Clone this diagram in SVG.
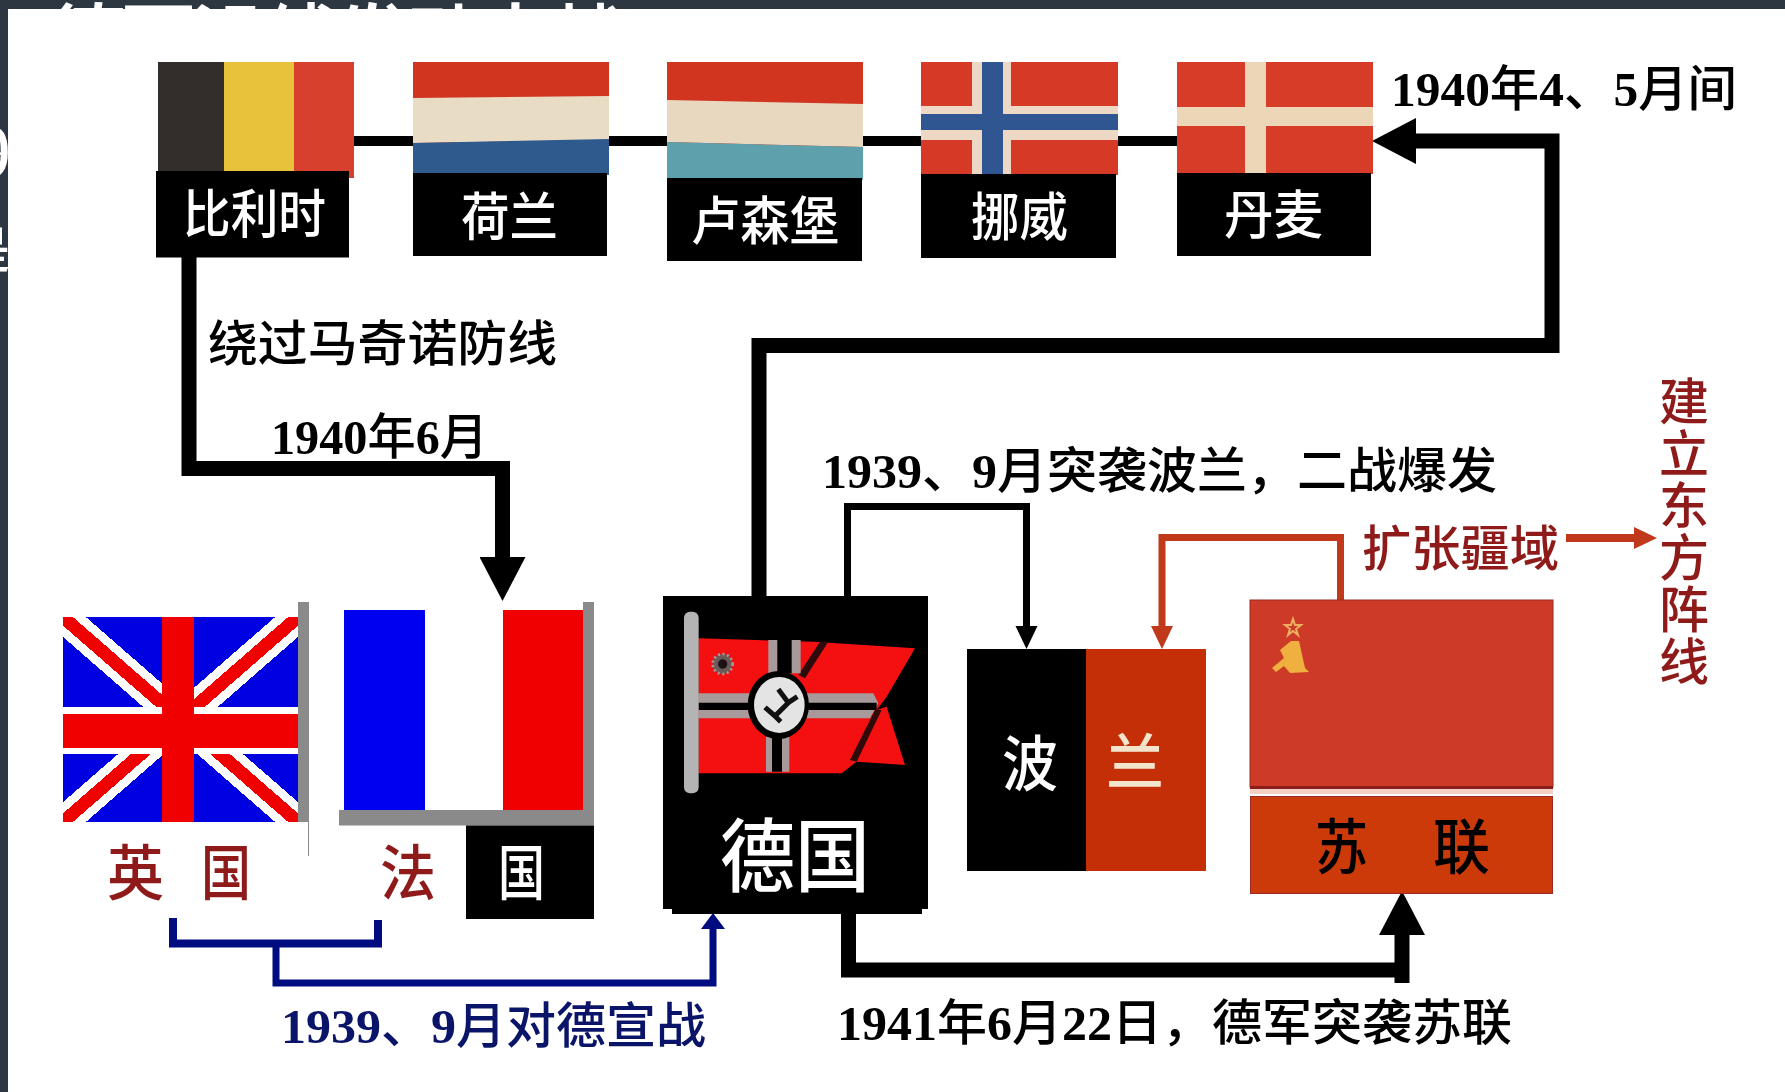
<svg xmlns="http://www.w3.org/2000/svg" width="1785" height="1092" viewBox="0 0 1785 1092">
<style>
text{font-family:"Liberation Serif","Noto Sans CJK SC",serif;font-weight:500}
.w{fill:#fff}.k{fill:#000}.dr{fill:#8e1a1a}.nv{fill:#0a1468}.cr{fill:#f3e4cc}
.lb{font-size:52px}.ann{font-size:49px}.bd{font-weight:700}.big{font-size:60px}
.ln{fill:none;stroke:#000;stroke-width:15}
.thin{fill:none;stroke:#000;stroke-width:7}
.or{fill:none;stroke:#c0391b;stroke-width:7}
.bl{fill:none;stroke:#000c80;stroke-width:7}
</style>
<defs>
<marker id="big" markerUnits="userSpaceOnUse" markerWidth="46" markerHeight="46" refX="0" refY="23" orient="auto"><path d="M0 0L44 23L0 46z" fill="#000"/></marker>
<marker id="sm" markerUnits="userSpaceOnUse" markerWidth="24" markerHeight="24" refX="0" refY="12" orient="auto"><path d="M0 1L23 12L0 23z" fill="#000"/></marker>
<marker id="orm" markerUnits="userSpaceOnUse" markerWidth="24" markerHeight="24" refX="0" refY="12" orient="auto"><path d="M0 1L23 12L0 23z" fill="#c0391b"/></marker>
<marker id="blm" markerUnits="userSpaceOnUse" markerWidth="16" markerHeight="24" refX="0" refY="12" orient="auto"><path d="M0 0L16 12L0 24z" fill="#000c80"/></marker>
<clipPath id="ukclip"><rect x="63" y="617" width="235" height="205"/></clipPath>
</defs>
<rect width="1785" height="1092" fill="#2d3742"/>
<g id="backdrop-text">
<text x="48" y="69" font-size="78" textLength="578" lengthAdjust="spacing" style="fill:#fff">德军沿线发动大战</text>
<text x="11" y="178" font-size="78" text-anchor="end" style="fill:#fff;font-family:'Liberation Serif',serif;font-weight:400">9</text>
<text x="10" y="268" font-size="50" text-anchor="end" style="fill:#fff;font-family:'Noto Sans CJK SC',sans-serif">是</text>
</g>
<rect x="8" y="9" width="1777" height="1083" fill="#fff"/>

<g id="connectors">
<path class="ln" style="stroke-width:10" d="M354 141H1177"/>
<path class="ln" d="M189 257V468.5H502.5V557" marker-end="url(#big)"/>
<path class="ln" d="M759 597V345.5H1552V141H1416" marker-end="url(#big)"/>
<path class="thin" d="M847.5 597V506.5H1026.5V626" marker-end="url(#sm)"/>
<path class="or" d="M1340.5 600V537.5H1162V626" marker-end="url(#orm)"/>
<path class="or" style="stroke-width:8" d="M1566 538H1634" marker-end="url(#orm)"/>
<path class="bl" style="stroke-width:8" d="M173 918V943.5H378V920"/>
<path class="bl" d="M276 943V983H713V929" marker-end="url(#blm)"/>
<path class="ln" d="M848.5 914V970H1402"/>
<path class="ln" d="M1402 983V935" marker-end="url(#big)"/>
</g>

<g id="belgium">
<rect x="158" y="62" width="66" height="116" fill="#332e2c"/>
<rect x="224" y="62" width="70" height="116" fill="#e9c23c"/>
<rect x="294" y="62" width="60" height="116" fill="#d6402c"/>
<rect x="156" y="171" width="193" height="86.500" fill="#000"/>
<text class="lb w" x="183" y="233" textLength="143" lengthAdjust="spacingAndGlyphs">比利时</text>
</g>
<g id="netherlands">
<rect x="413" y="62" width="196" height="113" fill="#d13520"/>
<path d="M413 98L609 96V140L413 143z" fill="#e8dcc4"/>
<path d="M413 143L609 139V175H413z" fill="#2f5a8e"/>
<rect x="413" y="173" width="194" height="83" fill="#000"/>
<text class="lb w" x="461" y="236" textLength="97" lengthAdjust="spacingAndGlyphs">荷兰</text>
</g>
<g id="luxembourg">
<rect x="667" y="62" width="196" height="118" fill="#d13520"/>
<path d="M667 100L863 104V147L667 142z" fill="#e8d8c0"/>
<path d="M667 142L863 147V180H667z" fill="#5fa0ad"/>
<rect x="667" y="178" width="195" height="83" fill="#000"/>
<text class="lb w" x="691" y="240" textLength="148" lengthAdjust="spacingAndGlyphs">卢森堡</text>
</g>
<g id="norway">
<rect x="921" y="62" width="197" height="113" fill="#d63a26"/>
<rect x="972" y="62" width="39" height="113" fill="#ecd8c4"/>
<rect x="921" y="106" width="197" height="34" fill="#ecd8c4"/>
<rect x="982" y="62" width="21" height="113" fill="#2f5690"/>
<rect x="921" y="114" width="197" height="16" fill="#2f5690"/>
<rect x="921" y="174" width="195" height="84" fill="#000"/>
<text class="lb w" x="971" y="236" textLength="97" lengthAdjust="spacingAndGlyphs">挪威</text>
</g>
<g id="denmark">
<rect x="1177" y="62" width="196" height="112" fill="#d63c28"/>
<rect x="1245" y="62" width="21" height="112" fill="#ecd6b8"/>
<rect x="1177" y="107" width="196" height="19" fill="#ecd6b8"/>
<rect x="1177" y="173" width="194" height="83" fill="#000"/>
<text class="lb w" x="1224" y="234" textLength="99" lengthAdjust="spacingAndGlyphs">丹麦</text>
</g>

<g id="uk">
<rect x="298" y="602" width="11" height="220" fill="#8a8a8a"/>
<rect x="308" y="822" width="1" height="34" fill="#8a8a8a"/>
<g clip-path="url(#ukclip)" shape-rendering="crispEdges">
<rect x="63" y="617" width="235" height="205" fill="#0000e0"/>
<path d="M63 617L298 822M298 617L63 822" stroke="#fff" stroke-width="30" fill="none"/>
<path d="M63 617L298 822M298 617L63 822" stroke="#f00000" stroke-width="13" fill="none"/>
</g>
<path d="M63 707H298V754H63z" fill="#fff"/>
<path d="M162 617H194V714H298V748H194V822H162V748H63V714H162z" fill="#f00000"/>
<text class="big dr" x="107" y="895" textLength="57" lengthAdjust="spacingAndGlyphs">英</text>
<text class="big dr" x="201" y="895" textLength="50" lengthAdjust="spacingAndGlyphs">国</text>
</g>
<g id="france">
<path d="M339 810H583V602L594 602V825.500H339z" fill="#8a8a8a"/>
<rect x="344" y="610" width="81" height="200" fill="#0000f0"/>
<rect x="503" y="610" width="80" height="200" fill="#f00000"/>
<rect x="466" y="825.500" width="128" height="93.500" fill="#000"/>
<text class="big dr" x="380" y="895" textLength="56" lengthAdjust="spacingAndGlyphs">法</text>
<text class="big w" x="498" y="895" textLength="47" lengthAdjust="spacingAndGlyphs">国</text>
</g>

<g id="germany">
<path d="M663 596H928V909H922V914H672V909H663z" fill="#000"/>
<g transform="translate(660 590) scale(.3333)">
<path d="M115 145L460 155L765 175L680 320L650 360L680 350L735 525L590 515L545 550L115 550z" fill="#f41010"/>
<path d="M480 155L415 255L435 265L505 155zM645 360L570 510L590 515L665 360z" fill="#300a0a"/>
<path d="M115 310H640L655 340L630 385H115z" fill="#a89a9a"/>
<path d="M115 338H650V360H115z" fill="#000"/>
<path d="M325 150H422V250H325zM318 440H388V545H318z" fill="#a89a9a"/>
<path d="M352 150H395V250H352zM336 440H366V545H336z" fill="#000"/>
<ellipse cx="355" cy="345" rx="92" ry="102" fill="#000"/>
<ellipse cx="358" cy="345" rx="76" ry="84" fill="#e4e4e4"/>
<path d="M315 352L345 378L385 338L355 298M345 378L362 395M385 338L412 320" fill="none" stroke="#111" stroke-width="15"/>
<circle cx="188" cy="222" r="30" fill="#6a5a5a" stroke="#a89a9a" stroke-width="8" stroke-dasharray="6 8"/>
<circle cx="188" cy="222" r="14" fill="#1c1414"/>
<rect x="72" y="65" width="44" height="545" rx="18" fill="#b4b4b4"/>
</g>
<text class="w" x="720" y="885" style="font-size:80px" textLength="150" lengthAdjust="spacingAndGlyphs">德国</text>
</g>

<g id="poland">
<rect x="967" y="649" width="120" height="222" fill="#000"/>
<rect x="1086" y="649" width="120" height="222" fill="#c42f08"/>
<text class="big w" x="1002" y="786" textLength="56" lengthAdjust="spacingAndGlyphs">波</text>
<text class="big cr" x="1106" y="784" textLength="58" lengthAdjust="spacingAndGlyphs">兰</text>
</g>

<g id="ussr">
<rect x="1250" y="600" width="303" height="187" fill="#cd3a28" stroke="#9a2a20" stroke-width="1"/>
<rect x="1250" y="786" width="303" height="3" fill="#8a1c1c"/>
<rect x="1250" y="789" width="303" height="5" fill="#f2d0c4"/>
<rect x="1250.500" y="796.500" width="302" height="97" fill="#cc3a0a" stroke="#9a2a20" stroke-width="1"/>
<path d="M1293 619L1295 625L1301 625L1296 629L1298 635L1293 631L1288 635L1290 629L1285 625L1291 625z" fill="none" stroke="#eeb060" stroke-width="2"/>
<path d="M1291 641L1299 641L1305 668L1309 672L1290 673L1284 666L1276 672L1272 668L1284 658L1280 650z" fill="#f0b040"/>
<text class="big k" x="1315" y="869" textLength="53" lengthAdjust="spacingAndGlyphs">苏</text>
<text class="big k" x="1433" y="869" textLength="57" lengthAdjust="spacingAndGlyphs">联</text>
</g>

<g id="labels">
<text class="ann k" x="208" y="361" textLength="349" lengthAdjust="spacingAndGlyphs">绕过马奇诺防线</text>
<text class="ann k" x="271" y="454" textLength="217" lengthAdjust="spacingAndGlyphs"><tspan class="bd">1940</tspan>年<tspan class="bd">6</tspan>月</text>
<text class="ann k" x="1391" y="106" textLength="346" lengthAdjust="spacingAndGlyphs"><tspan class="bd">1940</tspan>年<tspan class="bd">4</tspan>、<tspan class="bd">5</tspan>月间</text>
<text class="ann k" x="822" y="488" textLength="675" lengthAdjust="spacingAndGlyphs"><tspan class="bd">1939</tspan>、<tspan class="bd">9</tspan>月突袭波兰，二战爆发</text>
<text class="ann dr" x="1362" y="566" textLength="197" lengthAdjust="spacingAndGlyphs">扩张疆域</text>
<text class="ann dr" style="font-size:50px" x="1659 1659 1659 1659 1659 1659" y="420 472 524 576 628 680">建立东方阵线</text>
<text class="ann nv" x="281" y="1043" textLength="425" lengthAdjust="spacingAndGlyphs"><tspan class="bd">1939</tspan>、<tspan class="bd">9</tspan>月对德宣战</text>
<text class="ann k" x="837" y="1040" textLength="675" lengthAdjust="spacingAndGlyphs"><tspan class="bd">1941</tspan>年<tspan class="bd">6</tspan>月<tspan class="bd">22</tspan>日，德军突袭苏联</text>
</g>
</svg>
